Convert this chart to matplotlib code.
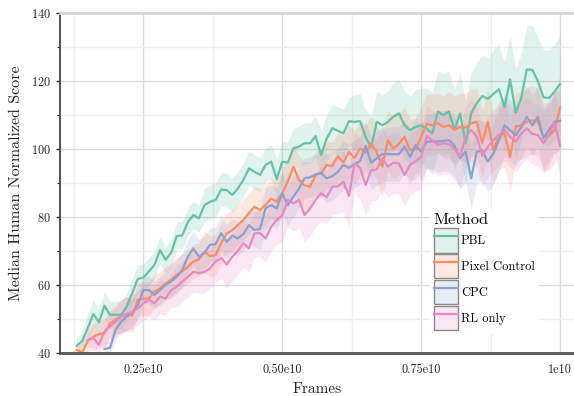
import numpy as np
import matplotlib
matplotlib.use("Agg")
import matplotlib.pyplot as plt
from matplotlib.patches import Patch
from matplotlib.lines import Line2D
from matplotlib.ticker import MultipleLocator, FixedLocator

plt.rcParams['font.family'] = 'serif'
plt.rcParams['font.serif'] = ['cmr10', 'DejaVu Serif']
plt.rcParams['axes.formatter.use_mathtext'] = True

methods = ["PBL", "Pixel Control", "CPC", "RL only"]
colors = ["#66c2a5", "#fc8d62", "#8da0cb", "#e78ac3"]

# frames in units of 1e8, step 1e8
pbl_start, pc_start, cpc_start, rl_start = 13, 13, 18, 15

pbl = [42.1, 43.5, 47.3, 51.5, 49.0, 53.9, 51.2, 51.3, 51.2, 53.6,
       57.6, 61.8, 62.2, 64.0, 65.9, 70.3, 67.4, 69.5, 74.4, 74.6,
       78.5, 80.6, 79.6, 83.5, 84.5, 85.0, 88.1, 87.9, 86.5, 88.4,
       90.9, 94.3, 93.3, 92.4, 95.3, 96.3, 91.1, 96.3, 96.0, 100.2,
       100.7, 101.7, 101.7, 103.8, 98.2, 103.1, 106.1, 105.4, 104.6, 108.2,
       108.0, 108.2, 103.6, 100.5, 108.0, 107.0, 108.0, 109.5, 110.5, 107.0,
       105.6, 106.5, 107.0, 106.0, 104.6, 111.0, 110.0, 111.0, 105.6, 110.5,
       101.7, 110.5, 113.5, 115.6, 114.8, 116.2, 117.6, 112.3, 120.5, 110.7,
       115.0, 123.4, 123.3, 120.0, 115.2, 115.0, 116.9, 119.1]
pbl_spread = [2, 3, 4, 4, 4, 4, 4, 4, 4, 4,
              4, 4, 4, 4, 4, 4, 4, 4, 4, 4,
              4, 4, 4, 5, 5, 5, 5, 5, 5, 5,
              5, 5, 5, 5, 5, 5, 6, 6, 6, 6,
              6, 6, 6, 6, 7, 7, 7, 7, 7, 7,
              8, 8, 8, 9, 9, 9, 9, 10, 10, 10,
              10, 11, 11, 12, 12, 12, 12, 12, 12, 12,
              12, 12, 12, 12, 12, 13, 13, 13, 13, 13,
              13, 13, 13, 13, 14, 14, 14, 14]

pixel_control = [40.9, 40.2, 43.5, 44.8, 45.6, 45.8, 48.7, 49.8, 50.7, 51.5,
                 51.0, 55.6, 56.0, 56.0, 58.0, 59.0, 60.5, 61.5, 63.0, 64.0,
                 65.4, 66.9, 67.5, 69.8, 68.5, 68.8, 72.3, 75.2, 76.1, 77.6,
                 79.1, 81.1, 83.0, 82.1, 83.5, 85.5, 84.5, 87.0, 90.4, 94.8,
                 90.9, 89.3, 88.9, 92.4, 92.9, 95.3, 95.0, 97.9, 96.0, 99.2,
                 97.3, 100.2, 99.0, 101.7, 99.0, 94.8, 102.6, 100.2, 101.5, 103.6,
                 99.7, 100.0, 103.6, 107.4, 107.0, 107.6, 106.5, 107.0, 105.6, 106.5,
                 106.3, 107.6, 108.0, 101.7, 108.0, 99.7, 104.0, 104.6, 97.7, 106.6,
                 107.0, 108.0, 108.5, 108.0, 103.6, 103.8, 105.6, 112.3]
pixel_control_spread = [2, 3, 3, 4, 4, 4, 4, 4, 5, 5,
                        5, 5, 5, 5, 5, 5, 5, 5, 5, 5,
                        5, 5, 5, 6, 6, 6, 6, 6, 6, 6,
                        6, 6, 6, 6, 6, 6, 6, 7, 7, 7,
                        7, 7, 7, 7, 7, 7, 7, 7, 8, 8,
                        8, 8, 8, 8, 8, 9, 9, 9, 9, 9,
                        9, 9, 9, 9, 9, 9, 9, 10, 10, 10,
                        10, 10, 10, 10, 10, 10, 10, 10, 10, 10,
                        10, 10, 10, 10, 10, 10, 10, 10]

cpc = [41.2, 41.5, 46.8, 49.2, 50.7,
       52.0, 54.0, 58.5, 58.5, 57.1, 58.5, 60.0, 61.0, 62.4, 64.4,
       68.3, 70.8, 68.3, 69.5, 71.8, 72.0, 75.2, 72.7, 74.5, 73.7,
       75.0, 77.6, 76.2, 76.5, 82.6, 83.5, 82.5, 87.0, 83.5, 86.0,
       88.4, 91.4, 91.7, 92.5, 93.0, 91.4, 92.0, 93.3, 95.3, 94.5,
       95.5, 96.5, 100.9, 96.0, 97.3, 98.5, 98.5, 98.5, 98.5, 100.7,
       97.7, 101.2, 99.2, 102.2, 102.2, 102.2, 102.4, 102.6, 101.0, 97.3,
       99.2, 91.4, 99.2, 99.5, 96.3, 98.7, 102.6, 107.0, 105.6, 104.0,
       106.5, 109.5, 107.0, 109.5, 103.1, 105.6, 108.0, 108.3]
cpc_spread = [2, 2, 3, 3, 4,
              4, 4, 4, 4, 4, 4, 4, 5, 5, 5,
              5, 5, 5, 5, 5, 5, 5, 5, 5, 5,
              5, 5, 5, 6, 6, 6, 6, 6, 6, 6,
              6, 6, 6, 6, 7, 7, 7, 7, 7, 7,
              7, 7, 7, 8, 8, 8, 8, 8, 8, 8,
              8, 8, 8, 8, 8, 9, 9, 9, 9, 9,
              9, 9, 9, 9, 9, 9, 9, 9, 9, 9,
              9, 9, 9, 9, 9, 9, 9, 9]

rl_only = [43.8, 44.5, 42.4, 46.3, 47.8, 49.2, 50.7, 51.5,
           52.1, 53.1, 54.6, 55.6, 54.6, 56.6, 56.0, 58.5, 59.5, 61.0,
           62.4, 63.9, 63.5, 63.8, 64.9, 66.9, 67.9, 66.1, 68.3, 70.0,
           72.3, 70.8, 75.2, 75.3, 73.7, 77.1, 79.1, 80.5, 85.0, 84.0,
           85.0, 80.6, 82.5, 85.0, 87.0, 85.8, 88.9, 89.0, 90.4, 86.2,
           95.8, 94.5, 89.4, 93.8, 94.0, 97.3, 94.8, 96.0, 95.8, 92.4,
           95.3, 96.5, 97.7, 103.8, 102.5, 101.2, 101.7, 101.5, 100.0, 97.7,
           103.6, 105.6, 103.6, 98.0, 100.7, 102.6, 104.1, 105.6, 103.6, 102.2,
           104.5, 106.1, 104.5, 104.1, 101.7, 104.0, 108.0, 100.9]
rl_only_spread = [2, 3, 3, 4, 4, 4, 5, 5,
                  5, 5, 5, 5, 5, 5, 5, 5, 6, 6,
                  6, 6, 6, 6, 6, 6, 6, 7, 7, 7,
                  7, 7, 7, 7, 7, 7, 7, 8, 8, 8,
                  8, 8, 8, 8, 8, 8, 8, 8, 9, 9,
                  9, 9, 9, 9, 9, 9, 9, 9, 9, 9,
                  9, 9, 9, 9, 9, 9, 9, 9, 9, 9,
                  9, 9, 9, 9, 9, 9, 9, 9, 9, 9,
                  9, 9, 9, 9, 9, 9, 9, 9]

series = [(pbl_start, pbl, pbl_spread),
          (pc_start, pixel_control, pixel_control_spread),
          (cpc_start, cpc, cpc_spread),
          (rl_start, rl_only, rl_only_spread)]

x_ticks = [0.25e10, 0.50e10, 0.75e10, 1.0e10]
x_ticklabels = ["0.25e10", "0.50e10", "0.75e10", "1e10"]
y_ticks = [40, 60, 80, 100, 120, 140]

fig = plt.figure(figsize=(5.74, 3.96), dpi=100)
ax = fig.add_axes([0.1045, 0.1086, 0.8955, 0.8584])

for (start, vals, spr), c in zip(series, colors):
    v = np.array(vals)
    s = np.array(spr)
    x = (start + np.arange(len(v))) * 1e8
    ax.fill_between(x, v - s, v + s, color=c, alpha=0.2, linewidth=0)
for (start, vals, spr), c in zip(series, colors):
    v = np.array(vals)
    x = (start + np.arange(len(v))) * 1e8
    ax.plot(x, v, color=c, lw=1.6)

ax.set_xlim(0.1e10, 1.025e10)
ax.set_ylim(40, 140)
ax.xaxis.set_major_locator(FixedLocator(x_ticks))
ax.set_xticklabels(x_ticklabels)
ax.xaxis.set_minor_locator(MultipleLocator(0.125e10))
ax.yaxis.set_major_locator(FixedLocator(y_ticks))
ax.yaxis.set_minor_locator(MultipleLocator(10))
ax.grid(which='major', color='#dcdcdc', lw=1.0)
ax.grid(which='minor', color='#eeeeee', lw=1.0)
ax.set_axisbelow(True)
ax.tick_params(axis='x', which='both', length=0, labelsize=8.8, pad=8)
ax.tick_params(axis='y', which='major', length=3, width=1, labelsize=8.8, color='#333333')
ax.tick_params(axis='y', which='minor', length=2, width=0.8, color='#333333')
for lab in ax.get_xticklabels() + ax.get_yticklabels():
    lab.set_color('#222222')

ax.spines['right'].set_visible(False)
ax.spines['top'].set_color('#d4d4d4')
ax.spines['top'].set_linewidth(2)
ax.spines['left'].set_color('#444444')
ax.spines['left'].set_linewidth(1.3)
ax.spines['bottom'].set_color('#555555')
ax.spines['bottom'].set_linewidth(2)

ax.set_xlabel("Frames", fontsize=11, color='#222222', labelpad=4)
ax.set_ylabel("Median Human Normalized Score", fontsize=11.5, color='#222222', labelpad=6)

handles = []
for c in colors:
    p = Patch(facecolor=c, alpha=0.2, edgecolor='none')
    pe = Patch(facecolor='none', edgecolor='#8a8a8a', lw=1.0)
    l = Line2D([], [], color=c, lw=1.6)
    handles.append((p, pe, l))
leg = ax.legend(handles, methods, title="Method", loc='lower left',
                bbox_to_anchor=(0.72, 0.056), borderaxespad=0,
                fontsize=9, title_fontsize=11.8, frameon=True,
                handlelength=1.92, handleheight=2.58, labelspacing=0.15,
                handletextpad=0.25, alignment='left', borderpad=0.3)
leg.get_frame().set_facecolor('white')
leg.get_frame().set_edgecolor('none')
leg.get_frame().set_alpha(1)

fig.savefig("out.png", dpi=100)
